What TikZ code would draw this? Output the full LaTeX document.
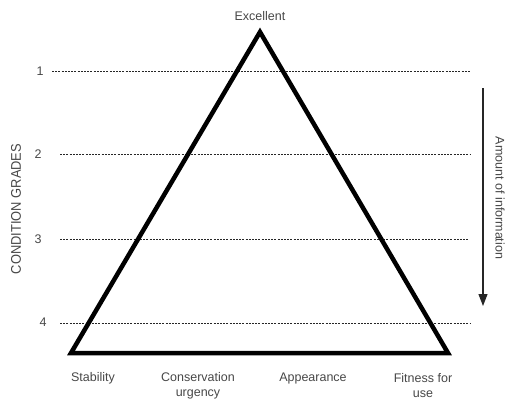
\documentclass[tikz,border=0pt]{standalone}
\usepackage{fontspec}
\setmainfont{Liberation Sans}
\usetikzlibrary{arrows.meta}
\begin{document}
\begin{tikzpicture}[x=1pt,y=-1pt,
  lbl/.style={font=\fontsize{12.5}{15}\selectfont, text=black!72, inner sep=0pt},
  grade/.style={black!85, line width=1pt, dash pattern=on 2pt off 1.2pt},
  tri/.style={line width=4.5pt, line join=miter, black}]
\useasboundingbox (0,0) rectangle (507,400);
% triangle
\coordinate (apex) at (260,32);
\coordinate (bl) at (71,353);
\coordinate (br) at (448,353);
\node[lbl] (exc) at (260,16) {Excellent};
% grade lines
\node[lbl] (g1) at (40,71) {1};
\node[lbl] (g2) at (38,154) {2};
\node[lbl] (g3) at (38,239) {3};
\node[lbl] (g4) at (43,322) {4};
\coordinate (e1) at (470,71);
\coordinate (e2) at (470,154);
\coordinate (e3) at (468,239);
\coordinate (e4) at (470,323);
\draw[grade] (52,71) -- (e1);
\draw[grade] (60,154) -- (e2);
\draw[grade] (60,239) -- (e3);
\draw[grade] (60,323) -- (e4);
\draw[tri] (apex) -- (bl) -- (br) -- cycle;
% axis label
\node[lbl, rotate=90, font=\fontsize{14}{16}\selectfont, xscale=0.92] (cg) at (16,209) {CONDITION GRADES};
% arrow
\coordinate (a1) at (483,88);
\coordinate (a2) at (483,306);
\draw[line width=1.2pt, black!85, -{Triangle[length=12pt,width=9pt]}] (a1) -- (a2);
\node[lbl, rotate=-90] (ai) at (500,198) {Amount of information};
% bottom labels
\node[lbl] (s) at (93,378) {Stability};
\node[lbl, align=center] (cu) at (198,385.5) {Conservation\\urgency};
\node[lbl] (ap) at (313,378) {Appearance};
\node[lbl, align=center] (fu) at (423,385.5) {Fitness for\\use};
\end{tikzpicture}
\end{document}
